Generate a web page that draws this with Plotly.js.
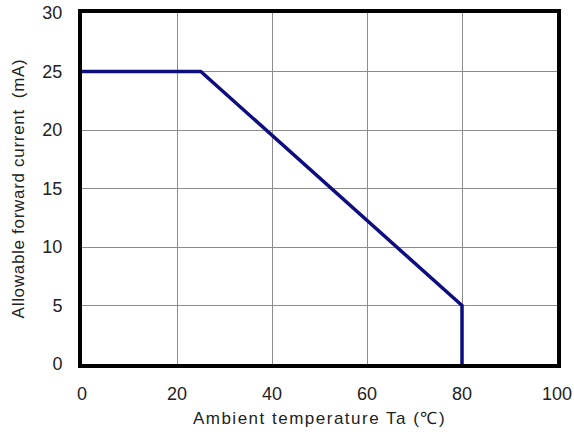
<!DOCTYPE html>
<html><head><meta charset="utf-8">
<script src="https://cdn.plot.ly/plotly-3.0.1.min.js"></script>
<style>body{margin:0;background:#fff}#c{width:574px;height:434px}
.xtitle{letter-spacing:1.5px}.ytitle{letter-spacing:0.7px}</style>
</head><body><div id="c"></div>
<script>
const temperature = [0, 25, 80, 80];
const current = [25, 25, 5, 0];
const xTicks = [0, 20, 40, 60, 80, 100];
const yTicks = [0, 5, 10, 15, 20, 25, 30];

const fam = 'Liberation Sans, Arial, sans-serif';
const txt = '#222';
Plotly.newPlot('c', [{
  x: temperature, y: current, mode: 'lines',
  line: {color: '#0d0d80', width: 3.5}, hoverinfo: 'none'
}], {
  width: 574, height: 434,
  margin: {l: 82, r: 17, t: 13, b: 70},
  paper_bgcolor: '#fff', plot_bgcolor: '#fff',
  showlegend: false,
  font: {family: fam, color: txt},
  xaxis: {
    range: [0, 100], tickvals: xTicks, ticktext: xTicks.map(String),
    showgrid: true, gridcolor: '#8c8c8c', gridwidth: 1,
    zeroline: false, showline: true, mirror: true, linecolor: '#000', linewidth: 4,
    ticks: 'outside', ticklen: 10, tickcolor: 'rgba(0,0,0,0)', tickfont: {size: 18, family: fam, color: txt},
    title: {text: 'Ambient temperature Ta (℃)', font: {size: 17, family: fam, color: txt}, standoff: 11}
  },
  yaxis: {
    range: [0, 30], tickvals: yTicks, ticktext: yTicks.map(String),
    showgrid: true, gridcolor: '#8c8c8c', gridwidth: 1,
    zeroline: false, showline: true, mirror: true, linecolor: '#000', linewidth: 4,
    ticks: 'outside', ticklen: 12, tickcolor: 'rgba(0,0,0,0)', tickfont: {size: 18, family: fam, color: txt},
    title: {text: 'Allowable forward current  (mA)', font: {size: 17, family: fam, color: txt}, standoff: 14}
  }
}, {staticPlot: true});
</script></body></html>
